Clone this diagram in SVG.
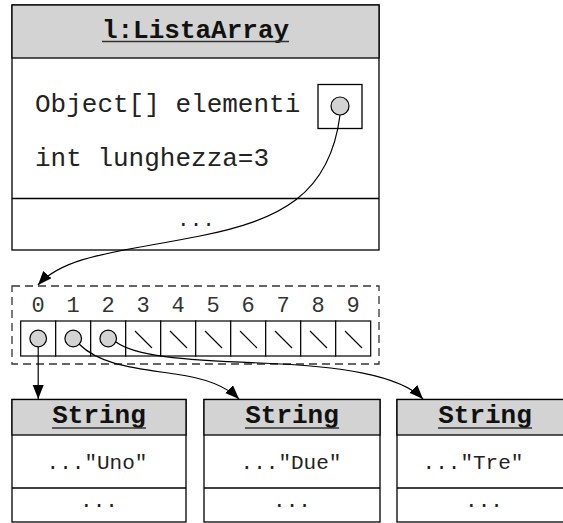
<svg xmlns="http://www.w3.org/2000/svg" width="563" height="523" viewBox="0 0 563 523">
<style>
.box{fill:#fff;stroke:#000;stroke-width:1.3}
.hdr{fill:#d3d3d3;stroke:#000;stroke-width:1.3}
.sep{stroke:#000;stroke-width:1.3}
.ul{stroke:#333;stroke-width:1.5}
.title{font-family:"Liberation Mono","Courier New",monospace;font-weight:bold;font-size:26px;fill:#111;text-anchor:middle}
.attr{font-family:"Liberation Mono","Courier New",monospace;font-size:26px;fill:#222}
.val{font-family:"Liberation Mono","Courier New",monospace;font-size:21px;fill:#222;text-anchor:middle}
.idx{font-family:"Liberation Mono","Courier New",monospace;font-size:22px;fill:#333;text-anchor:middle}
.ptr{fill:#d3d3d3;stroke:#000;stroke-width:1.2}
.cell{fill:#fff;stroke:#000;stroke-width:1.2}
.nul{stroke:#000;stroke-width:1.1}
.conn{fill:none;stroke:#000;stroke-width:1.2;marker-end:url(#arr)}
</style>
<defs>
<marker id="arr" markerUnits="userSpaceOnUse" markerWidth="15" markerHeight="12" refX="14" refY="5.5" orient="auto">
<path d="M0,0 L14,5.5 L0,11 z" fill="#000"/>
</marker>
</defs>
<rect width="563" height="523" fill="#fff"/>

<g id="listaArray">
<rect class="box" x="12" y="5" width="367" height="245"/>
<rect class="hdr" x="12" y="5" width="367" height="53"/>
<text class="title" x="195.5" y="38">l:ListaArray</text>
<line class="ul" x1="102" y1="41.5" x2="289" y2="41.5"/>
<text class="attr" x="35" y="112">Object[] elementi</text>
<text class="attr" x="35" y="166">int lunghezza=3</text>
<rect class="box" x="318" y="84.5" width="44" height="44"/>
<circle class="ptr" cx="340" cy="106" r="9"/>
<line class="sep" x1="12" y1="198.5" x2="379" y2="198.5"/>
<text class="val" x="196" y="226">...</text>
</g>

<g id="array">
<rect x="12" y="286" width="367" height="78" fill="none" stroke="#333" stroke-width="1.3" stroke-dasharray="8,5"/>
<text class="idx" x="38.2" y="312">0</text>
<text class="idx" x="73.2" y="312">1</text>
<text class="idx" x="108.2" y="312">2</text>
<text class="idx" x="143.2" y="312">3</text>
<text class="idx" x="178.2" y="312">4</text>
<text class="idx" x="213.2" y="312">5</text>
<text class="idx" x="248.2" y="312">6</text>
<text class="idx" x="283.2" y="312">7</text>
<text class="idx" x="318.2" y="312">8</text>
<text class="idx" x="353.2" y="312">9</text>
<rect class="cell" x="20.7" y="321" width="35" height="35"/>
<rect class="cell" x="55.7" y="321" width="35" height="35"/>
<rect class="cell" x="90.7" y="321" width="35" height="35"/>
<rect class="cell" x="125.7" y="321" width="35" height="35"/>
<rect class="cell" x="160.7" y="321" width="35" height="35"/>
<rect class="cell" x="195.7" y="321" width="35" height="35"/>
<rect class="cell" x="230.7" y="321" width="35" height="35"/>
<rect class="cell" x="265.7" y="321" width="35" height="35"/>
<rect class="cell" x="300.7" y="321" width="35" height="35"/>
<rect class="cell" x="335.7" y="321" width="35" height="35"/>
<circle class="ptr" cx="38.2" cy="338.5" r="8.3"/>
<circle class="ptr" cx="73.2" cy="338.5" r="8.3"/>
<circle class="ptr" cx="108.2" cy="338.5" r="8.3"/>
<line class="nul" x1="135" y1="331" x2="152" y2="348"/>
<line class="nul" x1="170" y1="331" x2="187" y2="348"/>
<line class="nul" x1="205" y1="331" x2="222" y2="348"/>
<line class="nul" x1="240" y1="331" x2="257" y2="348"/>
<line class="nul" x1="275" y1="331" x2="292" y2="348"/>
<line class="nul" x1="310" y1="331" x2="327" y2="348"/>
<line class="nul" x1="345" y1="331" x2="362" y2="348"/>
</g>

<g id="stringUno">
<rect class="box" x="12" y="399.5" width="174" height="122.5"/>
<rect class="hdr" x="12" y="399.5" width="174" height="35.5"/>
<text class="title" x="99" y="423">String</text>
<line class="ul" x1="52" y1="428" x2="146" y2="428"/>
<text class="val" x="97" y="469">..."Uno"</text>
<line class="sep" x1="12" y1="488" x2="186" y2="488"/>
<text class="val" x="99" y="507">...</text>
</g>

<g id="stringDue">
<rect class="box" x="204" y="399.5" width="176" height="122.5"/>
<rect class="hdr" x="204" y="399.5" width="176" height="35.5"/>
<text class="title" x="292" y="423">String</text>
<line class="ul" x1="245" y1="428" x2="339" y2="428"/>
<text class="val" x="291" y="469">..."Due"</text>
<line class="sep" x1="204" y1="488" x2="380" y2="488"/>
<text class="val" x="292" y="507">...</text>
</g>

<g id="stringTre">
<rect class="box" x="397" y="399.5" width="176" height="122.5"/>
<rect class="hdr" x="397" y="399.5" width="176" height="35.5"/>
<text class="title" x="485" y="423">String</text>
<line class="ul" x1="438" y1="428" x2="532" y2="428"/>
<text class="val" x="473" y="469">..."Tre"</text>
<line class="sep" x1="397" y1="488" x2="573" y2="488"/>
<text class="val" x="484" y="507">...</text>
</g>

<g id="connectors">
<path class="conn" d="M340,115 C330,195 280,220 200,236 C120,252 65,255 38,285"/>
<path class="conn" d="M38.2,347 L38.2,399"/>
<path class="conn" d="M79,344 C100,365 135,368 175,374 C205,378 226,386 239,399"/>
<path class="conn" d="M116,342 C135,356 180,360 260,363 C340,366 400,375 423,399"/>
</g>
</svg>
